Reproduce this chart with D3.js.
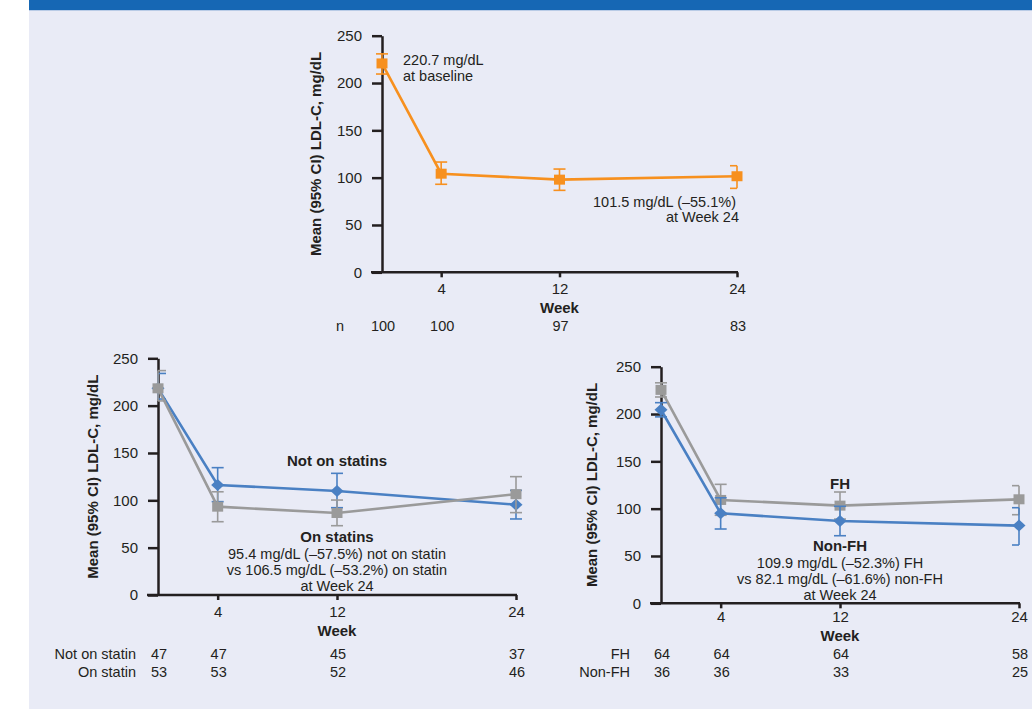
<!DOCTYPE html>
<html>
<head>
<meta charset="utf-8">
<script src="https://cdn.jsdelivr.net/npm/d3@7"></script>
<style>
  html, body { margin: 0; padding: 0; background: #ffffff; }
  svg { display: block; }
</style>
</head>
<body>
<svg id="chart" width="1032" height="710"></svg>
<script>
// ---- data ----
const weeks = [0, 4, 12, 24];
const weekTicks = [4, 12, 24];
const yTicks = [0, 50, 100, 150, 200, 250];

// Overall population
const overallMean = [220.7, 104.2, 97.9, 101.5];
const overallLo   = [209.5, 93.0, 86.6, 88.7];
const overallHi   = [230.8, 116.5, 109.1, 112.6];
const overallN    = [100, 100, 97, 83];

// By background statin use
const notStatinMean = [218.3, 116.2, 109.9, 95.4];
const notStatinLo   = [207.0, 98.6, 92.2, 80.3];
const notStatinHi   = [234.0, 134.5, 128.5, 110.5];
const onStatinMean  = [218.3, 93.3, 86.6, 106.5];
const onStatinLo    = [205.0, 77.4, 73.2, 87.0];
const onStatinHi    = [237.0, 109.0, 100.3, 125.0];
const notStatinN    = [47, 47, 45, 37];
const onStatinN     = [53, 53, 52, 46];

// By familial hypercholesterolaemia status
const fhMean    = [225.5, 109.2, 103.2, 109.9];
const fhLo      = [218.0, 93.0, 89.0, 93.6];
const fhHi      = [233.0, 125.7, 117.6, 124.3];
const nonFhMean = [204.5, 95.1, 87.0, 82.1];
const nonFhLo   = [197.0, 78.5, 71.4, 61.6];
const nonFhHi   = [212.0, 111.5, 102.5, 101.0];
const fhN       = [64, 64, 64, 58];
const nonFhN    = [36, 36, 33, 25];

// ---- styling ----
const FONT = '"Liberation Sans", Arial, Helvetica, sans-serif';
const INK = "#231f20";
const ORANGE = "#f7901e";
const BLUE = "#4a80c3";
const GRAY = "#9a9a9a";

const svg = d3.select("#chart").attr("font-family", FONT);

// page frame
svg.append("rect").attr("x", 0).attr("y", 0).attr("width", 1032).attr("height", 710).attr("fill", "#ffffff");
svg.append("rect").attr("x", 29).attr("y", 10).attr("width", 1003).attr("height", 699).attr("fill", "#e9ebf6");
svg.append("rect").attr("x", 29).attr("y", 0).attr("width", 1003).attr("height", 10).attr("fill", "#1667b4");
svg.append("rect").attr("x", 29).attr("y", 10).attr("width", 1003).attr("height", 1).attr("fill", "#b9cbe6");

const squarePath = (w, h) => `M${-w/2},${-h/2}H${w/2}V${h/2}H${-w/2}Z`;
const diamondPath = (w, h) => `M0,${-h/2}L${w/2},0L0,${h/2}L${-w/2},0Z`;

function drawPanel(cfg) {
  const g = svg.append("g");
  const x = d3.scaleLinear().domain([0, 24]).range([cfg.left, cfg.right]);
  const y = d3.scaleLinear().domain([0, 250]).range([cfg.bottom, cfg.top]);

  // y axis
  const yAxis = d3.axisLeft(y).tickValues(yTicks).tickSize(10).tickPadding(10).tickSizeOuter(0);
  const ya = g.append("g").attr("transform", `translate(${x(0)},0)`).call(yAxis)
    .attr("font-family", FONT).attr("font-size", 15);
  ya.select(".domain").attr("stroke", INK).attr("stroke-width", 2.5);
  ya.selectAll(".tick line").attr("stroke", INK).attr("stroke-width", 2.5);
  ya.selectAll(".tick text").attr("fill", INK);

  // x axis
  g.append("line")
    .attr("x1", x(0) - 11).attr("x2", x(24) + 1)
    .attr("y1", y(0)).attr("y2", y(0))
    .attr("stroke", INK).attr("stroke-width", 2.5);
  const xAxis = d3.axisBottom(x).tickValues(weekTicks).tickSize(5).tickPadding(cfg.xPad);
  const xa = g.append("g").attr("transform", `translate(0,${y(0)})`).call(xAxis)
    .attr("font-family", FONT).attr("font-size", 15);
  xa.select(".domain").remove();
  xa.selectAll(".tick line").attr("stroke", INK).attr("stroke-width", 2.5);
  xa.selectAll(".tick text").attr("fill", INK);

  g.append("text").attr("x", x(12)).attr("y", cfg.weekY)
    .attr("text-anchor", "middle").attr("font-size", 15).attr("font-weight", "bold")
    .attr("fill", INK).text("Week");

  // y axis title
  g.append("text")
    .attr("transform", `translate(${cfg.titleX},${(y(0) + y(250)) / 2}) rotate(-90)`)
    .attr("text-anchor", "middle").attr("dy", "0.35em")
    .attr("font-size", 15).attr("font-weight", "bold").attr("fill", INK)
    .text("Mean (95% CI) LDL-C, mg/dL");

  // series
  cfg.series.forEach(s => {
    const pts = weeks.map((w, i) => ({ w, m: s.mean[i], lo: s.lo[i], hi: s.hi[i], i }));
    g.append("path").datum(pts)
      .attr("d", d3.line().x(d => x(d.w)).y(d => y(d.m)))
      .attr("fill", "none").attr("stroke", s.color).attr("stroke-width", 2.6);

    const eb = g.append("g").attr("stroke", s.color).attr("stroke-width", 1.6).attr("fill", "none");
    pts.forEach(d => {
      const cx = x(d.w);
      const [c0, c1] = cfg.cap(d.i);
      eb.append("line").attr("x1", cx).attr("x2", cx).attr("y1", y(d.lo)).attr("y2", y(d.hi));
      eb.append("line").attr("x1", cx + c0).attr("x2", cx + c1).attr("y1", y(d.lo)).attr("y2", y(d.lo));
      eb.append("line").attr("x1", cx + c0).attr("x2", cx + c1).attr("y1", y(d.hi)).attr("y2", y(d.hi));
    });

    g.append("g").selectAll("path").data(pts).join("path")
      .attr("transform", d => `translate(${x(d.w)},${y(d.m)})`)
      .attr("d", s.shape === "diamond" ? diamondPath(13, 12) : squarePath(11, 10))
      .attr("fill", s.color);
  });

  // number of patients at each visit
  cfg.nRows.forEach(r => {
    g.append("text").attr("x", r.labelX).attr("y", r.y)
      .attr("text-anchor", r.anchor).attr("font-size", 14.5).attr("fill", INK).text(r.label);
    g.append("g").selectAll("text").data(r.values).join("text")
      .attr("x", (v, i) => x(weeks[i]) + 1).attr("y", r.y)
      .attr("text-anchor", "middle").attr("font-size", 14.5).attr("fill", INK)
      .text(v => v);
  });

  // annotations
  cfg.notes.forEach(n => {
    g.append("text").attr("x", n.x(x)).attr("y", n.y)
      .attr("text-anchor", n.anchor).attr("font-size", n.bold ? 15 : 14.5)
      .attr("font-weight", n.bold ? "bold" : "normal").attr("fill", INK)
      .text(n.text);
  });
}

// Overall
drawPanel({
  left: 382, right: 737, bottom: 272.3, top: 35.7,
  xPad: 6, weekY: 313, titleX: 316,
  cap: i => (i === 3 ? [-7, 0] : [-6, 6]),
  series: [
    { mean: overallMean, lo: overallLo, hi: overallHi, color: ORANGE, shape: "square" }
  ],
  nRows: [
    { label: "n", labelX: 340, anchor: "middle", y: 331, values: overallN }
  ],
  notes: [
    { text: "220.7 mg/dL", x: () => 403, y: 65, anchor: "start" },
    { text: "at baseline", x: () => 403, y: 81, anchor: "start" },
    { text: "101.5 mg/dL (\u201355.1%)", x: () => 736, y: 207, anchor: "end" },
    { text: "at Week 24", x: () => 739, y: 222, anchor: "end" }
  ]
});

// Statin subgroups
drawPanel({
  left: 158, right: 516, bottom: 595, top: 358.3,
  xPad: 6.5, weekY: 636, titleX: 93,
  cap: i => (i === 0 ? [0, 8] : [-6, 6]),
  series: [
    { mean: notStatinMean, lo: notStatinLo, hi: notStatinHi, color: BLUE, shape: "diamond" },
    { mean: onStatinMean, lo: onStatinLo, hi: onStatinHi, color: GRAY, shape: "square" }
  ],
  nRows: [
    { label: "Not on statin", labelX: 136, anchor: "end", y: 659, values: notStatinN },
    { label: "On statin", labelX: 136, anchor: "end", y: 677, values: onStatinN }
  ],
  notes: [
    { text: "Not on statins", x: x => x(12), y: 466, anchor: "middle", bold: true },
    { text: "On statins", x: x => x(12), y: 542, anchor: "middle", bold: true },
    { text: "95.4 mg/dL (\u201357.5%) not on statin", x: x => x(12), y: 559, anchor: "middle" },
    { text: "vs 106.5 mg/dL (\u201353.2%) on statin", x: x => x(12), y: 575, anchor: "middle" },
    { text: "at Week 24", x: x => x(12), y: 591, anchor: "middle" }
  ]
});

// FH subgroups
drawPanel({
  left: 661, right: 1019, bottom: 603.3, top: 366.7,
  xPad: 3, weekY: 641, titleX: 592,
  cap: i => (i === 3 ? [-7, 0] : [-6, 6]),
  series: [
    { mean: fhMean, lo: fhLo, hi: fhHi, color: GRAY, shape: "square" },
    { mean: nonFhMean, lo: nonFhLo, hi: nonFhHi, color: BLUE, shape: "diamond" }
  ],
  nRows: [
    { label: "FH", labelX: 630, anchor: "end", y: 659, values: fhN },
    { label: "Non-FH", labelX: 630, anchor: "end", y: 677, values: nonFhN }
  ],
  notes: [
    { text: "FH", x: x => x(12), y: 489, anchor: "middle", bold: true },
    { text: "Non-FH", x: x => x(12), y: 551, anchor: "middle", bold: true },
    { text: "109.9 mg/dL (\u201352.3%) FH", x: x => x(12), y: 568, anchor: "middle" },
    { text: "vs 82.1 mg/dL (\u201361.6%) non-FH", x: x => x(12), y: 584, anchor: "middle" },
    { text: "at Week 24", x: x => x(12), y: 600, anchor: "middle" }
  ]
});
</script>
</body>
</html>
